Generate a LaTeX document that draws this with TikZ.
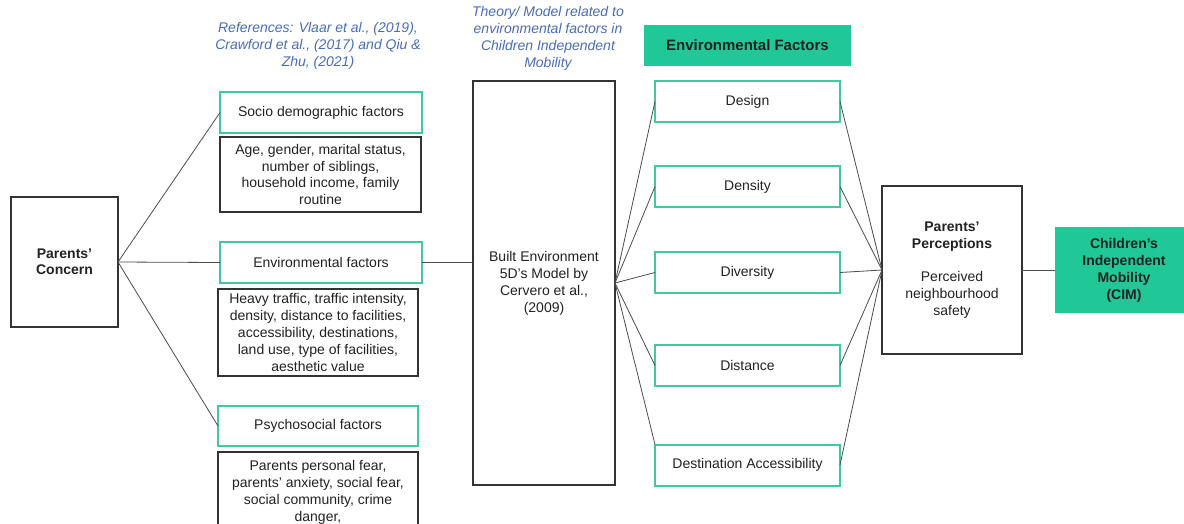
\documentclass[tikz,border=0pt]{standalone}
\usepackage{fontspec}
\setmainfont{Liberation Sans}
\definecolor{cimgreen}{RGB}{31,200,150}
\definecolor{edgegreen}{RGB}{64,201,158}
\definecolor{refblue}{RGB}{72,108,184}
\definecolor{boxtext}{RGB}{34,34,34}
\begin{document}
\begin{tikzpicture}[x=1pt,y=-1pt,inner sep=0pt,outer sep=0pt,
font=\fontsize{14}{16.5}\selectfont,text=boxtext,
greenbox/.style={draw=edgegreen,line width=2pt,rectangle,fill=white,minimum width=202pt,minimum height=41pt,align=center},
blackbox/.style={draw=black!80,line width=1.3pt,rectangle,fill=white,align=center},
fillbox/.style={fill=cimgreen,rectangle,align=center,font=\fontsize{15}{17}\selectfont\bfseries},
reftext/.style={text=refblue,align=center,font=\fontsize{14}{17}\selectfont\itshape},
link/.style={draw=black!70,line width=0.8pt}]
\useasboundingbox (0,0) rectangle (1184,523);
\draw (64.5,262) node[blackbox,minimum width=107pt,minimum height=130pt,font=\fontsize{14}{16}\selectfont\bfseries] (Concern) {Parents'\\Concern};
\draw (318,46) node[reftext] (Refs) {References: Vlaar et al., (2019),\\Crawford et al., (2017) and Qiu \&\\Zhu, (2021)};
\draw (321,112.5) node[greenbox] (Socio) {Socio demographic factors};
\draw (320.5,174.5) node[blackbox,minimum width=201pt,minimum height=75pt] (SocioList) {Age, gender, marital status,\\number of siblings,\\household income, family\\routine};
\draw (321,262.5) node[greenbox] (EnvF) {Environmental factors};
\draw (318,332.5) node[blackbox,minimum width=200pt,minimum height=87pt,font=\fontsize{14}{17}\selectfont] (EnvList) {Heavy traffic, traffic intensity,\\density, distance to facilities,\\accessibility, destinations,\\land use, type of facilities,\\aesthetic value};
\draw (318,426) node[greenbox,minimum width=200pt,minimum height=40pt] (Psycho) {Psychosocial factors};
\draw (318,492) node[blackbox,minimum width=200pt,minimum height=80pt,font=\fontsize{14}{17}\selectfont] (PsychoList) {Parents personal fear,\\parents' anxiety, social fear,\\social community, crime\\danger,};
\draw (548,38) node[reftext] (Theory) {Theory/ Model related to\\environmental factors in\\Children Independent\\Mobility};
\draw (544,283) node[blackbox,minimum width=142pt,minimum height=404pt,font=\fontsize{14}{17}\selectfont] (BE) {Built Environment\\5D's Model by\\Cervero et al.,\\(2009)};
\draw (747.5,45.5) node[fillbox,minimum width=207pt,minimum height=41pt] (EFhead) {Environmental Factors};
\foreach \ypos/\name/\txt in {101.5/Design/Design,186.5/Density/Density,272.5/Diversity/Diversity,365.5/Distance/Distance,465/Access/Destination Accessibility}
  \draw (747.5,\ypos) node[greenbox,minimum width=185pt] (\name) {\txt};
\draw (952,270) node[blackbox,minimum width=140pt,minimum height=168pt,font=\fontsize{14}{17}\selectfont] (PP) {\textbf{Parents'}\\\textbf{Perceptions}\\[16pt]Perceived\\neighbourhood\\safety};
\draw (1124,270) node[fillbox,minimum width=138pt,minimum height=86pt,font=\fontsize{14}{17}\selectfont\bfseries] (CIM) {Children's\\Independent\\Mobility\\(CIM)};
\draw[link] (Concern.east) -- (Socio.west);
\draw[link] (Concern.east) -- (EnvF.west);
\draw[link] (Concern.east) -- (Psycho.west);
\draw[link] (EnvF.east) -- (EnvF.east -| BE.west);
\foreach \name in {Design,Density,Diversity,Distance}
  \draw[link] (BE.east) -- (\name.west);
\draw[link] (BE.east) -- (Access.north west);
\foreach \name in {Design,Density,Diversity,Distance,Access}
  \draw[link] (\name.east) -- (PP.west);
\draw[link] (PP.east) -- (CIM.west);
\end{tikzpicture}
\end{document}
